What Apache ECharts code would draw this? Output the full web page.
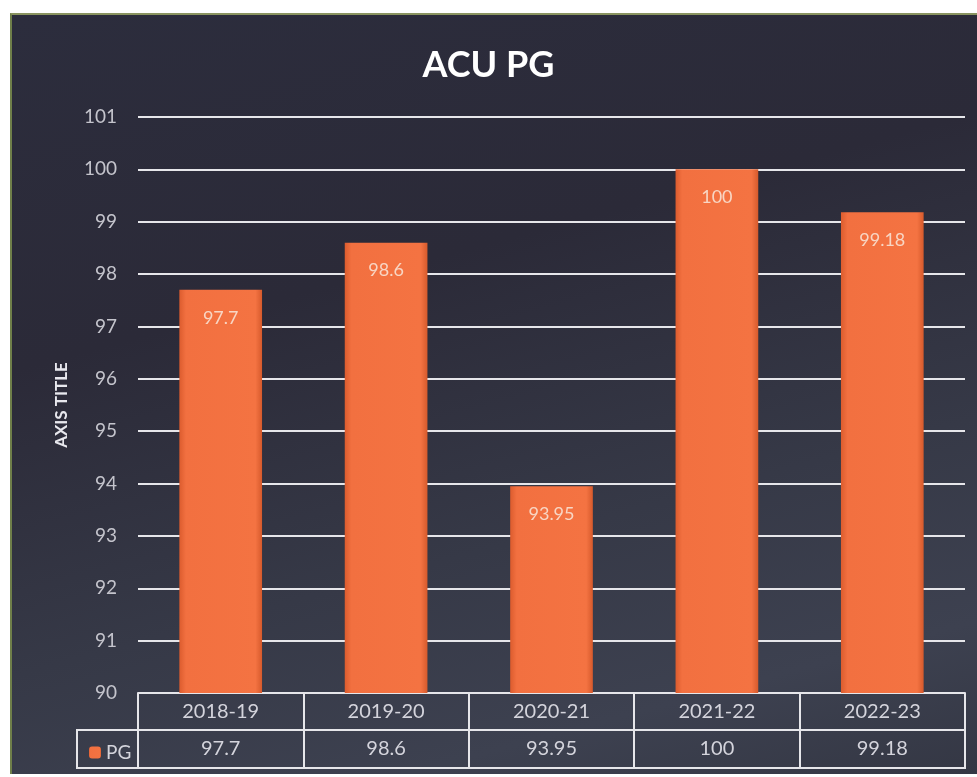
<!DOCTYPE html>
<html>
<head>
<meta charset="utf-8">
<script src="https://cdn.jsdelivr.net/npm/echarts@6/dist/echarts.min.js"></script>
<style>
  html, body { margin: 0; padding: 0; background: #ffffff; }
  #panel {
    position: absolute; left: 10px; top: 13px; right: 0; bottom: 3px;
    background: linear-gradient(165deg, #2c2d3d 0%, #2b2a38 35%, #363947 65%, #3d4150 85%, #343744 100%);
    border-left: 2px solid #6f7f4a;
    border-top: 2px solid #8a9460;
  }
  #chart { position: absolute; left: 0; top: 0; width: 977px; height: 777px; }
</style>
</head>
<body>
<div id="panel"></div>
<div id="chart"></div>
<script>
// 数据
const years = ['2018-19', '2019-20', '2020-21', '2021-22', '2022-23']
const pgValues = [97.7, 98.6, 93.95, 100, 99.18]
const seriesName = 'PG'

const textFont = 'Lato, "Open Sans", sans-serif'
const lineColor = '#e6e6ea'

const chart = echarts.init(document.getElementById('chart'))

// 柱子横向渐变，模拟立体边缘
const barColor = new echarts.graphic.LinearGradient(0, 0, 1, 0, [
  { offset: 0, color: '#dc5c2e' },
  { offset: 0.08, color: '#f27040' },
  { offset: 0.92, color: '#f47342' },
  { offset: 1, color: '#d65a2c' }
])

const option = {
  backgroundColor: 'transparent',
  title: {
    text: 'ACU PG',
    left: 'center',
    top: 42,
    textStyle: { color: '#ffffff', fontSize: 36, fontWeight: 'bold', fontFamily: textFont }
  },
  legend: {
    data: [seriesName],
    left: 84,
    top: 738,
    itemWidth: 12,
    itemHeight: 12,
    itemGap: 4,
    textStyle: { color: '#d4d4dc', fontSize: 19, fontFamily: textFont }
  },
  grid: { left: 138, right: 12, top: 117, bottom: 84 },
  xAxis: [
    {
      // 表头：年份
      type: 'category',
      data: years,
      position: 'bottom',
      axisLine: { show: true, lineStyle: { color: lineColor, width: 2 } },
      axisTick: { show: true, interval: 0, length: 76, lineStyle: { color: lineColor, width: 2 } },
      axisLabel: { color: '#d4d4dc', fontSize: 20, fontFamily: textFont, margin: 9 }
    },
    {
      // 数值行
      type: 'category',
      data: pgValues.map(v => String(v)),
      position: 'bottom',
      offset: 37,
      axisLine: { show: true, lineStyle: { color: lineColor, width: 2 } },
      axisTick: { show: false },
      axisLabel: { color: '#d4d4dc', fontSize: 20, fontFamily: textFont, margin: 9 }
    },
    {
      // 表格底边
      type: 'category',
      data: years,
      position: 'bottom',
      offset: 75,
      axisLine: { show: true, lineStyle: { color: lineColor, width: 2 } },
      axisTick: { show: false },
      axisLabel: { show: false }
    }
  ],
  yAxis: {
    type: 'value',
    min: 90,
    max: 101,
    interval: 1,
    name: 'AXIS TITLE',
    nameLocation: 'middle',
    nameGap: 68,
    nameTextStyle: { color: '#e8e8ee', fontSize: 17, fontWeight: 'bold', fontFamily: textFont },
    axisLine: { show: false },
    axisTick: { show: false },
    axisLabel: { color: '#c4c4cc', fontSize: 19, fontFamily: textFont, margin: 21 },
    splitLine: { lineStyle: { color: lineColor, width: 2 } }
  },
  series: [
    {
      name: seriesName,
      type: 'bar',
      data: pgValues,
      barWidth: '50%',
      itemStyle: { color: barColor },
      label: {
        show: true,
        position: 'insideTop',
        distance: 19,
        color: '#f8d6c4',
        fontSize: 18,
        fontFamily: textFont
      }
    }
  ],
  graphic: [
    {
      // 图例单元格
      type: 'polyline',
      shape: { points: [[138, 730], [77, 730], [77, 768], [138, 768]] },
      style: { stroke: lineColor, lineWidth: 2, fill: null }
    }
  ]
}

chart.setOption(option)
</script>
</body>
</html>
